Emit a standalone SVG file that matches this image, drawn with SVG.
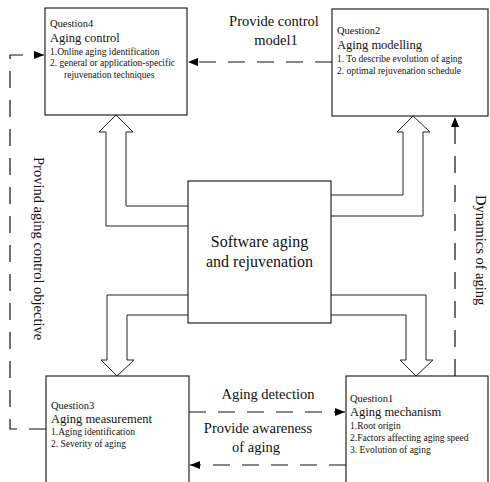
<svg xmlns="http://www.w3.org/2000/svg" width="490" height="482" viewBox="0 0 490 482">
<style>
text{font-family:"Liberation Serif","Times New Roman",serif;fill:#111}
.box{fill:#fff;stroke:#111;stroke-width:1.1}
.fat{fill:none;stroke:#222;stroke-width:1}
.dash{fill:none;stroke:#111;stroke-width:1.2;stroke-dasharray:17 12}
.t{font-size:10.5px}
.h{font-size:12.5px}
.s{font-size:9.5px}
.lbl{font-size:14.5px}
</style>
<defs>
<marker id="ah" viewBox="0 0 10 8" refX="10" refY="4" markerWidth="10" markerHeight="8" markerUnits="userSpaceOnUse" orient="auto">
<path d="M0,0 L10,4 L0,8 Z" fill="#000"/>
</marker>
</defs>
<g id="connectors">
<path class="fat" d="M188,206 H126 V132 H133 L116,115 L99,132 H106 V226 H188"/>
<path class="fat" d="M331,195 H403 V132 H397 L413,116 L430,132 H423 V216 H331"/>
<path class="fat" d="M188,295 H107 V360 H101 L117,376 L134,360 H127 V315 H188"/>
<path class="fat" d="M331,315 H406 V360 H400 L416,376 L433,360 H426 V295 H331"/>
<path class="dash" d="M332,62 H188" marker-end="url(#ah)"/>
<path class="dash" d="M455,376 V117" marker-end="url(#ah)"/>
<path class="dash" d="M46,429 H10 V55 H44" marker-end="url(#ah)"/>
<path class="dash" d="M189,412 H345" marker-end="url(#ah)"/>
<path class="dash" d="M346,465 H190" marker-end="url(#ah)"/>
<text class="lbl" x="274" y="26" text-anchor="middle">Provide control</text>
<text class="lbl" x="276" y="45" text-anchor="middle">model1</text>
<text class="lbl" x="268" y="399" text-anchor="middle">Aging detection</text>
<text class="lbl" x="258" y="433" text-anchor="middle">Provide awareness</text>
<text class="lbl" x="256" y="452" text-anchor="middle">of aging</text>
<text class="lbl" transform="translate(34,157) rotate(90)">Provind aging control objective</text>
<text class="lbl" transform="translate(476,195) rotate(90)">Dynamics of aging</text>
</g>
<g id="center">
<rect class="box" x="188" y="181" width="143" height="142"/>
<text x="259.5" y="247" text-anchor="middle" font-size="16">Software aging</text>
<text x="259.5" y="267" text-anchor="middle" font-size="16">and rejuvenation</text>
</g>
<g id="q4">
<rect class="box" x="45" y="8" width="142" height="107"/>
<text class="t" x="50" y="27">Question4</text>
<text class="h" x="50" y="42">Aging control</text>
<text class="s" x="50" y="55">1.Online aging identification</text>
<text class="s" x="50" y="66">2. general or application-specific</text>
<text class="s" x="64" y="78">rejuvenation  techniques</text>
</g>
<g id="q2">
<rect class="box" x="332" y="9" width="156" height="107"/>
<text class="t" x="337" y="34">Question2</text>
<text class="h" x="337" y="49">Aging modelling</text>
<text class="s" x="337" y="62">1. To describe evolution of aging</text>
<text class="s" x="337" y="74">2. optimal rejuvenation schedule</text>
</g>
<g id="q3">
<rect class="box" x="46" y="376" width="143" height="120"/>
<text class="t" x="51" y="409">Question3</text>
<text class="h" x="51" y="423">Aging measurement</text>
<text class="s" x="51" y="435">1.Aging identification</text>
<text class="s" x="51" y="447">2. Severity of aging</text>
</g>
<g id="q1">
<rect class="box" x="346" y="376" width="142" height="120"/>
<text class="t" x="350" y="402">Question1</text>
<text class="h" x="350" y="416">Aging mechanism</text>
<text class="s" x="350" y="429">1.Root origin</text>
<text class="s" x="350" y="441">2.Factors affecting aging speed</text>
<text class="s" x="350" y="453">3. Evolution of aging</text>
</g>
</svg>
